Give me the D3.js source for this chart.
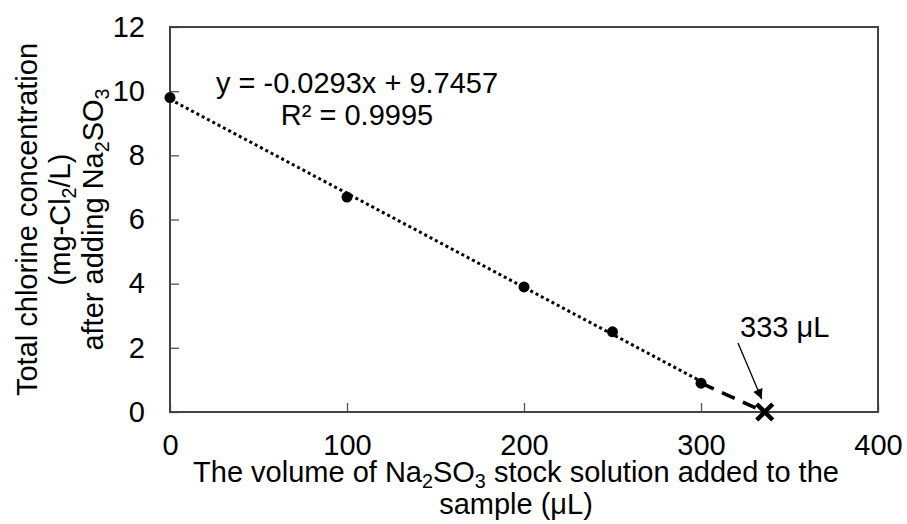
<!DOCTYPE html>
<html>
<head>
<meta charset="utf-8">
<script src="https://cdn.jsdelivr.net/npm/d3@7"></script>
<style>
  html, body { margin: 0; padding: 0; background: #fff; }
  svg { display: block; font-family: "Liberation Sans", Arial, sans-serif; }
</style>
</head>
<body>
<svg id="chart" width="907" height="524"></svg>
<script>
// ---- data ----
const volumes = [0, 100, 200, 250, 300];
const chlorine = [9.8, 6.7, 3.9, 2.5, 0.9];
const fitSlope = -0.0293;
const fitIntercept = 9.7457;
const fitRange = [0, 300];
const endpoint = { x: 336, y: 0 };
const endpointLabel = "333 μL";
const xTicks = [0, 100, 200, 300, 400];
const yTicks = [0, 2, 4, 6, 8, 10, 12];
const eqLine1 = "y = -0.0293x + 9.7457";
const eqLine2 = "R² = 0.9995";

// ---- layout ----
const svg = d3.select("#chart");
const L = 170, R = 878, T = 27, B = 412;
const fs = 29;
const x = d3.scaleLinear().domain([0, 400]).range([L, R]);
const y = d3.scaleLinear().domain([0, 12]).range([B, T]);

// axes
const yAxis = d3.axisLeft(y).tickValues(yTicks).tickSizeInner(-9).tickSizeOuter(0).tickPadding(25);
const xAxis = d3.axisBottom(x).tickValues(xTicks).tickSizeInner(-9).tickSizeOuter(0).tickPadding(22);

const gy = svg.append("g").attr("transform", `translate(${L},0)`).call(yAxis);
const gx = svg.append("g").attr("transform", `translate(0,${B})`).call(xAxis);
[gx, gy].forEach(g => {
  g.select(".domain").remove();
  g.selectAll(".tick line").attr("stroke", "#555").attr("stroke-width", 1.3);
  g.selectAll(".tick text").attr("font-size", fs).attr("fill", "#000")
    .attr("font-family", "Liberation Sans, Arial, sans-serif");
});

// frame
svg.append("rect").attr("x", L).attr("y", T).attr("width", R - L).attr("height", B - T)
  .attr("fill", "none").attr("stroke", "#444").attr("stroke-width", 2);

// trendline (dotted)
svg.append("line")
  .attr("x1", x(fitRange[0])).attr("y1", y(fitSlope * fitRange[0] + fitIntercept))
  .attr("x2", x(fitRange[1])).attr("y2", y(fitSlope * fitRange[1] + fitIntercept))
  .attr("stroke", "#000").attr("stroke-width", 3).attr("stroke-dasharray", "3,3");

// dashed extension from last point to endpoint
const lastI = volumes.length - 1;
svg.append("line")
  .attr("x1", x(volumes[lastI])).attr("y1", y(chlorine[lastI]))
  .attr("x2", x(endpoint.x)).attr("y2", y(endpoint.y))
  .attr("stroke", "#000").attr("stroke-width", 3.5).attr("stroke-dasharray", "14,9");

// points
svg.selectAll("circle.pt").data(volumes.map((v, i) => [v, chlorine[i]])).enter()
  .append("circle").attr("class", "pt")
  .attr("cx", d => x(d[0])).attr("cy", d => y(d[1])).attr("r", 5.5).attr("fill", "#000");

// X marker
const ex = x(endpoint.x), ey = y(endpoint.y), s = 8;
svg.append("path")
  .attr("d", `M${ex - s},${ey - s}L${ex + s},${ey + s}M${ex - s},${ey + s}L${ex + s},${ey - s}`)
  .attr("stroke", "#000").attr("stroke-width", 4.5).attr("fill", "none");

// arrow + label
svg.append("defs").append("marker").attr("id", "ah")
  .attr("viewBox", "0 0 10 10").attr("refX", 10).attr("refY", 5)
  .attr("markerWidth", 10).attr("markerHeight", 10).attr("markerUnits", "userSpaceOnUse")
  .attr("orient", "auto")
  .append("path").attr("d", "M0,0L10,5L0,10Z").attr("fill", "#000");
svg.append("line").attr("x1", 738).attr("y1", 343).attr("x2", ex - 3).attr("y2", ey - 13)
  .attr("stroke", "#000").attr("stroke-width", 1.3).attr("marker-end", "url(#ah)");
svg.append("text").attr("x", 740).attr("y", 337).attr("font-size", fs).text(endpointLabel);

// equation
const eq = svg.append("text").attr("text-anchor", "middle").attr("font-size", fs);
eq.append("tspan").attr("x", 357).attr("y", 93).text(eqLine1);
eq.append("tspan").attr("x", 357).attr("y", 125).text(eqLine2);

// helper for text with subscripts: parts = [[text, isSub], ...]
function richText(sel, parts) {
  parts.forEach(([t, sub]) => {
    const ts = sel.append("tspan").text(t);
    if (sub) ts.attr("font-size", fs * 0.68).attr("baseline-shift", "-30%");
  });
  return sel;
}

// y-axis title (three lines, rotated)
const yTitleLines = [
  [["Total chlorine concentration", false]],
  [["(mg-Cl", false], ["2", true], ["/L)", false]],
  [["after adding Na", false], ["2", true], ["SO", false], ["3", true]]
];
const yBase = [37, 70, 103];
yTitleLines.forEach((parts, i) => {
  const t = svg.append("text").attr("text-anchor", "middle").attr("font-size", fs)
    .attr("transform", `translate(${yBase[i]},${(T + B) / 2}) rotate(-90)`);
  richText(t, parts);
});

// x-axis title (two lines)
const xTitleLines = [
  [["The volume of Na", false], ["2", true], ["SO", false], ["3", true], [" stock solution added to the", false]],
  [["sample (μL)", false]]
];
const xBase = [482, 514];
xTitleLines.forEach((parts, i) => {
  const t = svg.append("text").attr("text-anchor", "middle").attr("font-size", fs)
    .attr("x", 516).attr("y", xBase[i]);
  richText(t, parts);
});
</script>
</body>
</html>
